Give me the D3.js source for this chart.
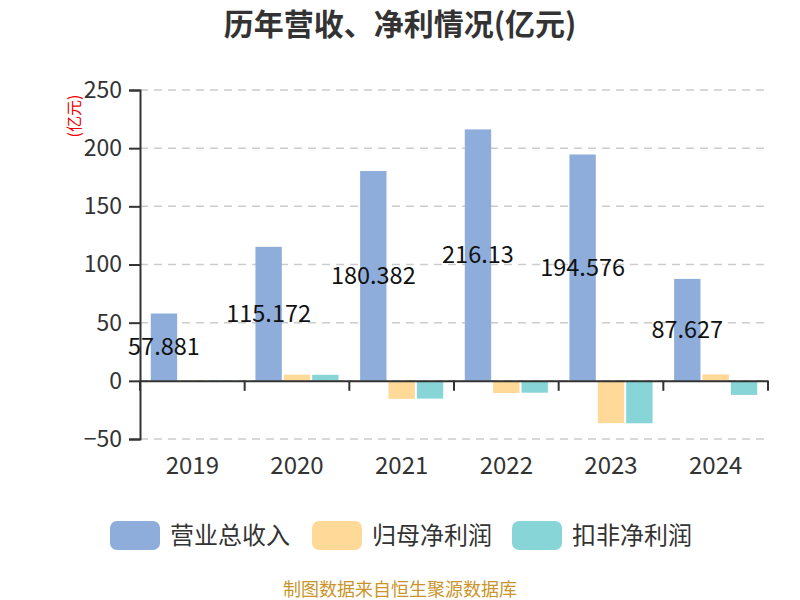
<!DOCTYPE html>
<html><head><meta charset="utf-8">
<script src="https://cdn.jsdelivr.net/npm/d3@7/dist/d3.min.js"></script>
<style>body{margin:0;background:#fff}text{font-family:"Noto Sans CJK SC","Noto Sans",sans-serif}</style>
</head><body><svg id="c" width="800" height="600"></svg>
<script>
const years = ["2019","2020","2021","2022","2023","2024"];
const seriesNames = ["营业总收入","归母净利润","扣非净利润"];
const revenue = [57.881,115.172,180.382,216.13,194.576,87.627];
const netProfit = [0.4,5.3,-15.5,-10.5,-36.4,5.5];
const deductedProfit = [0.3,5.2,-15.3,-10.2,-36.5,-12.1];
const yTicks = [-50,0,50,100,150,200,250];
const colors = ["#8eaddb","#ffd998","#88d5d8"];

const svg = d3.select("#c");
const x = d3.scaleBand().domain(years).range([140,768]);
const y = d3.scaleLinear().domain([-50,250]).range([439,90]);
const inner = d3.scaleBand().domain(seriesNames).range([0,x.bandwidth()]).paddingInner(0.07).paddingOuter(0.38);
const num = "'Noto Sans',sans-serif";

svg.append("text").attr("x",400).attr("y",35).attr("text-anchor","middle")
  .attr("font-size",30).attr("font-weight","bold").attr("fill","#333").text("历年营收、净利情况(亿元)");

// grid
svg.append("g").selectAll("line").data(yTicks).join("line")
  .attr("x1",140).attr("x2",768).attr("y1",d=>y(d)).attr("y2",d=>y(d))
  .attr("stroke","#ccc").attr("stroke-dasharray","8,6").attr("stroke-width",1.5);

// y axis
const ya = svg.append("g").attr("transform","translate(140,0)")
  .call(d3.axisLeft(y).tickValues(yTicks).tickSize(11).tickPadding(7));
ya.select(".domain").attr("stroke","#333").attr("stroke-width",2);
ya.selectAll(".tick line").attr("stroke","#333").attr("stroke-width",2);
ya.selectAll("text").attr("font-size",23).attr("fill","#333").attr("font-family",num);

svg.append("text").attr("transform","translate(80,116) rotate(-90)").attr("text-anchor","middle")
  .attr("font-size",16).attr("fill","#e00").text("(亿元)");

// bars
const data = [revenue,netProfit,deductedProfit];
data.forEach((arr,si)=>{
  svg.append("g").selectAll("rect").data(arr).join("rect")
    .attr("x",(d,i)=>x(years[i])+inner(seriesNames[si]))
    .attr("width",inner.bandwidth())
    .attr("y",d=>y(Math.max(0,d)))
    .attr("height",d=>Math.abs(y(d)-y(0)))
    .attr("fill",colors[si]);
});

// x axis
const xa = svg.append("g").attr("transform",`translate(0,${y(0)})`)
  .call(d3.axisBottom(x).tickSize(0).tickFormat(""));
xa.select(".domain").attr("stroke","#333").attr("stroke-width",2);
svg.append("g").selectAll("line").data(years.concat(["end"])).join("line")
  .attr("x1",(d,i)=>140+i*x.bandwidth()).attr("x2",(d,i)=>140+i*x.bandwidth())
  .attr("y1",y(0)).attr("y2",y(0)+10).attr("stroke","#333").attr("stroke-width",2);
svg.append("g").selectAll("text").data(years).join("text")
  .attr("x",d=>x(d)+x.bandwidth()/2).attr("y",474).attr("text-anchor","middle")
  .attr("font-size",24).attr("fill","#333").attr("font-family",num).text(d=>d);

// value labels (inside, centered)
svg.append("g").selectAll("text").data(revenue).join("text")
  .attr("x",(d,i)=>x(years[i])+inner(seriesNames[0])+inner.bandwidth()/2)
  .attr("y",d=>y(d/2)).attr("dy","0.35em").attr("text-anchor","middle")
  .attr("font-size",23.5).attr("fill","#111").attr("font-family",num).text(d=>d);

// legend
const lg = svg.append("g");
const lx = [110,312,512];
seriesNames.forEach((n,i)=>{
  lg.append("rect").attr("x",lx[i]).attr("y",521).attr("width",50).attr("height",29).attr("rx",7).attr("fill",colors[i]);
  lg.append("text").attr("x",lx[i]+60).attr("y",544).attr("font-size",24).attr("fill","#333").text(n);
});

svg.append("text").attr("x",400).attr("y",596).attr("text-anchor","middle")
  .attr("font-size",18).attr("fill","#c9952a").text("制图数据来自恒生聚源数据库");
</script></body></html>
